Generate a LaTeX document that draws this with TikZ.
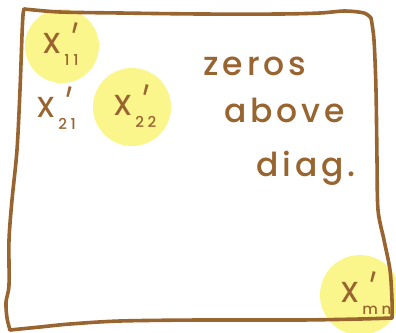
\documentclass[tikz,border=0pt]{standalone}
\usepackage{fontspec}
\setmainfont{Poppins}
\newfontfamily\hand[LetterSpace=12]{Poppins Medium}
\newfontfamily\handsub[LetterSpace=25]{Poppins Medium}
\definecolor{ink}{HTML}{98642F}
\definecolor{hilite}{HTML}{FBF68C}
\newcommand\entrytext[1]{X\rlap{\kern2pt\raisebox{-9pt}{\rotatebox{-15}{\scalebox{1}[1.8]{'}}}}\kern3pt\raisebox{-12pt}{\handsub\fontsize{15}{15}\selectfont #1}}
\begin{document}
\begin{tikzpicture}[x=1pt,y=-1pt,
  pen/.style={draw=ink,line width=3.6pt,line cap=round,line join=round},
  glow/.style={fill=hilite},
  entry/.style={text=ink,font=\hand\fontsize{29}{29}\selectfont,inner sep=0pt,anchor=base west},
  word/.style={text=ink,font=\hand\fontsize{33}{33}\selectfont,inner sep=0pt,anchor=base west}]
\useasboundingbox (0,0) rectangle (396,332);
% highlights
\fill[glow] (62,46) circle (37);
\fill[glow] (132,107) circle (39);
\fill[glow] (360,295) circle (40);
% frame
\draw[pen] plot[smooth] coordinates {(24,9) (60,12) (120,13) (200,14) (280,14) (320,13) (345,11) (364,13) (371,18)};
\draw[pen] plot[smooth] coordinates {(371,18) (374,40) (376,90) (377,160) (378,210) (384,240) (390,270) (392,300) (392,318)};
\draw[pen] plot[smooth] coordinates {(392,318) (360,319) (300,320) (200,320) (120,321) (70,324) (40,327) (10,330)};
\draw[pen] plot[smooth] coordinates {(10,330) (7,318) (6,302) (9,285) (9,240) (12,200) (17,150) (20,90) (22,35) (23,15) (24,9)};
% entries
\node[entry] (x11) at (42,53) {\entrytext{11}};
\node[entry] (x21) at (36,117) {\entrytext{21}};
\node[entry] (x22) at (113,115) {\entrytext{22}};
\node[entry] (xmn) at (340,302) {\entrytext{mn}};
% words
\node[word] (w1) at (203,75) {zeros};
\node[word] (w2) at (224,122) {above};
\node[word] (w3) at (256,176) {diag.};
\end{tikzpicture}
\end{document}
